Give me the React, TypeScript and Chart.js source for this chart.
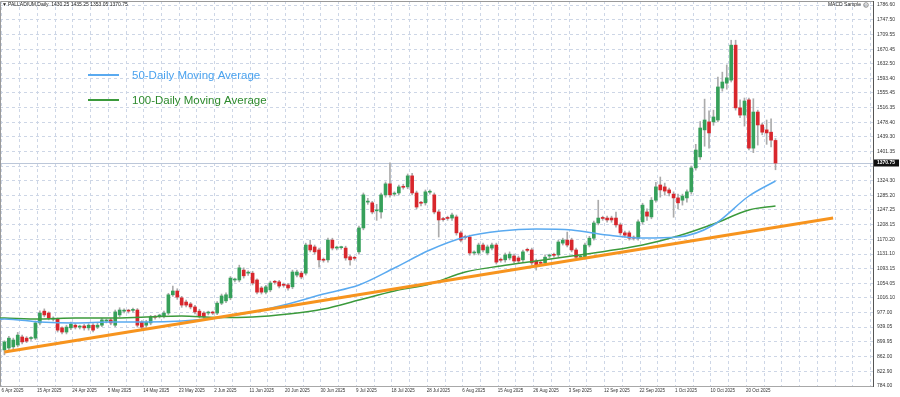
import React, { useEffect, useRef } from 'react';
import { Chart, registerables } from 'chart.js';

Chart.register(...registerables);

// ---- data ----
const dateLabels = ['6 Apr 2025', '15 Apr 2025', '24 Apr 2025', '5 May 2025', '14 May 2025', '23 May 2025', '2 Jun 2025', '11 Jun 2025', '20 Jun 2025', '30 Jun 2025', '9 Jul 2025', '18 Jul 2025', '28 Jul 2025', '6 Aug 2025', '15 Aug 2025', '26 Aug 2025', '3 Sep 2025', '12 Sep 2025', '22 Sep 2025', '1 Oct 2025', '10 Oct 2025', '20 Oct 2025'];

const opens = [879, 884, 887, 892, 913, 910, 909, 910, 950, 981, 976, 960, 960, 937, 926, 937, 944, 939, 942, 937, 944, 939, 944, 955, 958, 944, 971, 981, 982, 983, 984, 952, 944, 950, 966, 968, 968, 976, 1024, 1034, 1016, 1005, 1000, 992, 981, 976, 976, 977, 976, 1002, 1008, 1016, 1063, 1063, 1089, 1081, 1081, 1063, 1042, 1031, 1037, 1058, 1058, 1050, 1050, 1045, 1076, 1081, 1081, 1155, 1150, 1142, 1116, 1116, 1168, 1147, 1148, 1147, 1124, 1121, 1137, 1200, 1268, 1266, 1245, 1242, 1287, 1316, 1289, 1292, 1308, 1308, 1337, 1292, 1266, 1266, 1294, 1287, 1242, 1223, 1226, 1226, 1229, 1187, 1176, 1176, 1134, 1134, 1155, 1134, 1147, 1155, 1116, 1116, 1121, 1126, 1121, 1116, 1142, 1142, 1113, 1108, 1108, 1126, 1129, 1129, 1160, 1168, 1168, 1142, 1123, 1123, 1155, 1173, 1213, 1226, 1226, 1226, 1226, 1208, 1187, 1187, 1174, 1173, 1216, 1242, 1229, 1273, 1313, 1308, 1300, 1289, 1279, 1273, 1279, 1295, 1358, 1387, 1458, 1479, 1479, 1484, 1568, 1581, 1589, 1681, 1516, 1497, 1537, 1410, 1505, 1471, 1458, 1452, 1430.25];
const highs = [903, 915, 910, 925, 918, 914, 914, 955, 982, 987, 979, 966, 963, 940, 944, 952, 948, 944, 946, 948, 948, 950, 962, 960, 962, 984, 990, 987, 986, 989, 988, 956, 957, 970, 970, 973, 981, 1028, 1047, 1040, 1020, 1010, 1004, 996, 986, 980, 981, 981, 1006, 1026, 1029, 1072, 1068, 1102, 1095, 1087, 1086, 1066, 1046, 1049, 1060, 1062, 1062, 1055, 1054, 1089, 1089, 1086, 1160, 1168, 1155, 1147, 1121, 1173, 1173, 1152, 1152, 1152, 1128, 1126, 1205, 1292, 1278, 1270, 1262, 1292, 1321, 1371, 1295, 1313, 1315, 1342, 1344, 1297, 1270, 1300, 1300, 1292, 1247, 1228, 1231, 1239, 1234, 1192, 1181, 1181, 1140, 1160, 1160, 1155, 1160, 1160, 1121, 1134, 1137, 1131, 1126, 1142, 1147, 1147, 1118, 1113, 1129, 1131, 1134, 1168, 1173, 1189, 1173, 1147, 1129, 1160, 1178, 1218, 1273, 1231, 1231, 1231, 1242, 1213, 1192, 1192, 1179, 1221, 1265, 1250, 1280, 1320, 1334, 1318, 1305, 1295, 1289, 1289, 1300, 1363, 1420, 1480, 1539, 1508, 1510, 1597, 1610, 1629, 1694, 1694, 1537, 1542, 1542, 1540, 1510, 1476, 1484, 1487, 1435.25];
const lows = [866, 878, 880, 887, 895, 898, 904, 906, 945, 966, 958, 955, 926, 921, 921, 932, 934, 934, 931, 931, 926, 935, 940, 950, 945, 940, 966, 976, 976, 978, 939, 934, 939, 945, 960, 963, 963, 972, 1020, 1012, 991, 992, 987, 974, 963, 961, 971, 972, 972, 998, 1003, 1011, 1058, 1058, 1068, 1075, 1050, 1026, 1026, 1026, 1032, 1052, 1042, 1044, 1036, 1040, 1071, 1066, 1076, 1137, 1131, 1097, 1110, 1110, 1142, 1142, 1144, 1115, 1102, 1115, 1131, 1195, 1262, 1237, 1220, 1226, 1281, 1281, 1284, 1287, 1302, 1303, 1287, 1250, 1258, 1260, 1289, 1237, 1176, 1218, 1220, 1220, 1181, 1163, 1170, 1128, 1129, 1129, 1137, 1129, 1142, 1105, 1110, 1110, 1116, 1108, 1108, 1110, 1137, 1102, 1089, 1102, 1102, 1121, 1123, 1124, 1155, 1150, 1137, 1118, 1118, 1118, 1150, 1168, 1208, 1220, 1215, 1215, 1202, 1181, 1176, 1168, 1168, 1168, 1210, 1220, 1224, 1268, 1281, 1286, 1284, 1228, 1250, 1260, 1268, 1289, 1352, 1380, 1415, 1410, 1470, 1479, 1560, 1565, 1584, 1510, 1490, 1468, 1405, 1398, 1418, 1445, 1420, 1413, 1353.05];
const closes = [900, 910, 905, 918, 900, 902, 910, 950, 976, 971, 963, 961, 931, 926, 939, 947, 939, 940, 937, 944, 931, 944, 958, 956, 950, 979, 984, 982, 981, 984, 944, 939, 952, 966, 965, 969, 976, 1024, 1034, 1018, 997, 997, 992, 979, 968, 966, 977, 976, 1002, 1021, 1024, 1068, 1064, 1095, 1074, 1082, 1055, 1031, 1031, 1045, 1055, 1057, 1047, 1049, 1042, 1084, 1084, 1071, 1155, 1142, 1137, 1116, 1115, 1168, 1147, 1148, 1149, 1121, 1116, 1120, 1200, 1287, 1269, 1242, 1246, 1287, 1316, 1287, 1290, 1308, 1307, 1337, 1292, 1255, 1265, 1295, 1295, 1242, 1221, 1222, 1225, 1234, 1187, 1168, 1175, 1134, 1135, 1155, 1142, 1150, 1155, 1110, 1115, 1129, 1131, 1113, 1113, 1137, 1141, 1108, 1102, 1107, 1123, 1127, 1128, 1163, 1168, 1155, 1142, 1123, 1124, 1155, 1173, 1213, 1226, 1225, 1221, 1221, 1208, 1187, 1181, 1173, 1173, 1216, 1260, 1231, 1273, 1308, 1300, 1297, 1292, 1279, 1266, 1284, 1295, 1358, 1405, 1463, 1484, 1450, 1492, 1571, 1584, 1595, 1681, 1516, 1497, 1534, 1410, 1505, 1471, 1452, 1450, 1431, 1370.75];

// moving averages, read at sample bars
const maBars = [-1, 0, 8, 16, 24, 32, 40, 48, 56, 64, 72, 80, 88, 96, 104, 112, 120, 128, 136, 144, 152, 160, 168, 174];
const ma50 = [959.5, 960.3, 952.4, 949.8, 952.4, 952.4, 955.1, 962.9, 978.7, 999.8, 1026.1, 1049.8, 1094.5, 1141.9, 1176.1, 1191.9, 1197.2, 1194.5, 1181.4, 1173.5, 1176.1, 1207.7, 1284.0, 1323.5];
const ma100 = [963.2, 962.9, 960.3, 962.9, 962.9, 965.6, 968.2, 964.2, 965.6, 973.5, 986.6, 1010.3, 1034.0, 1052.4, 1084.0, 1099.8, 1113.0, 1126.1, 1139.3, 1155.1, 1178.7, 1210.3, 1247.2, 1257.7];

// trend line end points
const trendBars = [0, 187];
const trendValues = [873.5, 1226.0];

// price axis labels
const yTickLabels = ['784.00', '822.90', '862.00', '899.95', '939.05', '977.00', '1016.10', '1054.05', '1093.15', '1131.10', '1170.20', '1208.15', '1247.25', '1285.20', '1324.30', '1362.25', '1401.35', '1439.30', '1478.40', '1516.35', '1555.45', '1593.40', '1632.50', '1670.45', '1709.55', '1747.50', '1786.60'];

const headerText = 'PALLADIUM,Daily  1430.25 1435.25 1353.05 1370.75';
const eaText = 'MACD Sample';
const legend50 = '50-Daily Moving Average';
const legend100 = '100-Daily Moving Average';

// ---- styles ----
const N_SLOTS = 198;
const GREEN = '#36a05a';
const RED = '#d8262c';
const WICK = '#ababab';
const BLUE = '#5aaaf0';
const MAGREEN = '#3b9a3b';
const ORANGE = '#f7941e';
const GRID = '#cdd6e6';
const FONT = '"Liberation Sans", Arial, sans-serif';

export default function App() {
  const ref = useRef<HTMLCanvasElement | null>(null);

  useEffect(() => {
    document.body.style.margin = '0';
    const canvas = ref.current;
    if (!canvas) return;
    const n = closes.length;
    const lastClose = closes[n - 1];

    const labels: string[] = Array.from({ length: N_SLOTS }, () => '');
    dateLabels.forEach((d, k) => { labels[1 + 8 * k] = d; });

    const barAt = (c: number) => c - 1;
    const wickData = labels.map((_, c) => {
      const i = barAt(c);
      return i >= 0 && i < n ? [lows[i], highs[i]] : null;
    });
    const bodyData = labels.map((_, c) => {
      const i = barAt(c);
      return i >= 0 && i < n ? [opens[i], closes[i]] : null;
    });
    const bodyColors = labels.map((_, c) => {
      const i = barAt(c);
      if (i < 0 || i >= n) return GREEN;
      return closes[i] >= opens[i] ? GREEN : RED;
    });
    const sparse = (bars: number[], vals: number[]) => {
      const arr: (number | null)[] = Array(N_SLOTS).fill(null);
      bars.forEach((b, k) => { arr[b + 1] = vals[k]; });
      return arr;
    };

    const overlay = {
      id: 'overlay',
      beforeDatasetsDraw(chart: any) {
        const { ctx, chartArea: a, scales } = chart;
        const x = scales.x;
        const y = scales.y;
        ctx.save();
        // vertical dotted grid
        ctx.strokeStyle = GRID;
        ctx.lineWidth = 1;
        ctx.setLineDash([3, 3]);
        for (let c = 1; c < N_SLOTS + 8; c += 4) {
          const px = Math.round(x.getPixelForValue(c) - 3) + 0.5;
          if (px > a.right - 1) break;
          ctx.beginPath();
          ctx.moveTo(px, a.top);
          ctx.lineTo(px, a.bottom);
          ctx.stroke();
        }
        // current price line
        ctx.setLineDash([]);
        ctx.strokeStyle = '#bcc7d9';
        const py = Math.round(y.getPixelForValue(lastClose)) + 0.5;
        ctx.beginPath();
        ctx.moveTo(a.left, py);
        ctx.lineTo(a.right, py);
        ctx.stroke();
        // frame left / top
        ctx.strokeStyle = '#9a9a9a';
        ctx.beginPath();
        ctx.moveTo(a.left + 0.5, a.bottom);
        ctx.lineTo(a.left + 0.5, a.top + 0.5);
        ctx.lineTo(a.right, a.top + 0.5);
        ctx.stroke();
        ctx.restore();
      },
      afterDraw(chart: any) {
        const { ctx, chartArea: a, scales } = chart;
        const y = scales.y;
        ctx.save();
        // header
        ctx.font = `5px ${FONT}`;
        ctx.fillStyle = '#222';
        ctx.textBaseline = 'middle';
        ctx.textAlign = 'left';
        ctx.fillText('▼', 2, 5);
        ctx.fillText(headerText, 8, 5);
        ctx.textAlign = 'right';
        ctx.fillText(eaText, 861, 5);
        ctx.beginPath();
        ctx.arc(866, 5, 2.3, 0, Math.PI * 2);
        ctx.strokeStyle = '#777';
        ctx.lineWidth = 0.8;
        ctx.stroke();
        ctx.fillStyle = '#777';
        ctx.fillText('☺', 868.3, 5.2);

        // price box
        const py = y.getPixelForValue(lastClose);
        ctx.fillStyle = '#111';
        ctx.fillRect(a.right + 1, Math.round(py) - 3.5, 25, 7);
        ctx.fillStyle = '#fff';
        ctx.textAlign = 'left';
        ctx.font = `bold 5px ${FONT}`;
        ctx.fillText(lastClose.toFixed(2), a.right + 4, Math.round(py));

        // legend
        ctx.lineWidth = 2;
        ctx.strokeStyle = BLUE;
        ctx.beginPath();
        ctx.moveTo(88, 75);
        ctx.lineTo(119, 75);
        ctx.stroke();
        ctx.strokeStyle = MAGREEN;
        ctx.beginPath();
        ctx.moveTo(88, 100);
        ctx.lineTo(119, 100);
        ctx.stroke();
        ctx.font = `11.5px ${FONT}`;
        ctx.textBaseline = 'middle';
        ctx.fillStyle = '#4aa2ee';
        ctx.fillText(legend50, 132, 75.5);
        ctx.fillStyle = '#2d8a2d';
        ctx.fillText(legend100, 132, 100.5);
        ctx.restore();
      },
    };

    const chart = new Chart(canvas, {
      type: 'bar',
      data: {
        labels,
        datasets: [
          {
            type: 'line',
            label: 'trend',
            data: sparse(trendBars, trendValues),
            borderColor: ORANGE,
            borderWidth: 3,
            pointRadius: 0,
            spanGaps: true,
            order: 0,
          } as any,
          {
            type: 'line',
            label: legend50,
            data: sparse(maBars, ma50),
            borderColor: BLUE,
            borderWidth: 1.5,
            pointRadius: 0,
            spanGaps: true,
            cubicInterpolationMode: 'monotone',
            order: 1,
          } as any,
          {
            type: 'line',
            label: legend100,
            data: sparse(maBars, ma100),
            borderColor: MAGREEN,
            borderWidth: 1.5,
            pointRadius: 0,
            spanGaps: true,
            cubicInterpolationMode: 'monotone',
            order: 2,
          } as any,
          {
            type: 'bar',
            label: 'body',
            data: bodyData as any,
            backgroundColor: bodyColors,
            borderWidth: 0,
            barThickness: 3,
            minBarLength: 1,
            grouped: false,
            order: 3,
          } as any,
          {
            type: 'bar',
            label: 'wick',
            data: wickData as any,
            backgroundColor: WICK,
            borderWidth: 0,
            barThickness: 1,
            grouped: false,
            order: 4,
          } as any,
        ],
      },
      options: {
        responsive: false,
        animation: false,
        devicePixelRatio: 1,
        layout: { padding: { left: 0, top: 1, right: 0, bottom: 0 } },
        plugins: { legend: { display: false }, tooltip: { enabled: false } },
        scales: {
          x: {
            type: 'category',
            offset: false,
            grid: { display: false, drawTicks: false },
            border: { display: true, color: '#a8a8a8' },
            ticks: {
              autoSkip: false,
              maxRotation: 0,
              minRotation: 0,
              align: 'start',
              labelOffset: -3,
              padding: 2,
              color: '#333',
              font: { size: 4.5, family: FONT },
            },
            afterBuildTicks: (scale: any) => {
              scale.ticks = scale.ticks.filter((t: any) => t.value >= 1 && (t.value - 1) % 8 === 0 && (t.value - 1) / 8 < dateLabels.length);
            },
            afterFit: (scale: any) => {
              scale.height = 11;
              scale.paddingLeft = 0;
              scale.paddingRight = 0;
            },
          },
          y: {
            type: 'linear',
            position: 'right',
            min: 784,
            max: 1797.2,
            grid: { color: GRID, lineWidth: 1, drawTicks: false },
            border: { display: true, color: '#555', width: 1, dash: [3, 3] },
            ticks: {
              padding: 4,
              color: '#333',
              font: { size: 5, family: FONT },
              callback: (v: any) => (Math.abs(Number(v) - lastClose) < 12 ? '' : Number(v).toFixed(2)),
            },
            afterBuildTicks: (scale: any) => {
              scale.ticks = yTickLabels.map((s) => ({ value: parseFloat(s) }));
            },
            afterFit: (scale: any) => {
              scale.width = 27;
              scale.paddingTop = 0;
              scale.paddingBottom = 0;
            },
          },
        },
      },
      plugins: [overlay],
    } as any);

    return () => chart.destroy();
  }, []);

  return (
    <div style={{ position: 'relative', width: 900, height: 397, background: '#fff' }}>
      <canvas ref={ref} width={900} height={397} />
    </div>
  );
}
